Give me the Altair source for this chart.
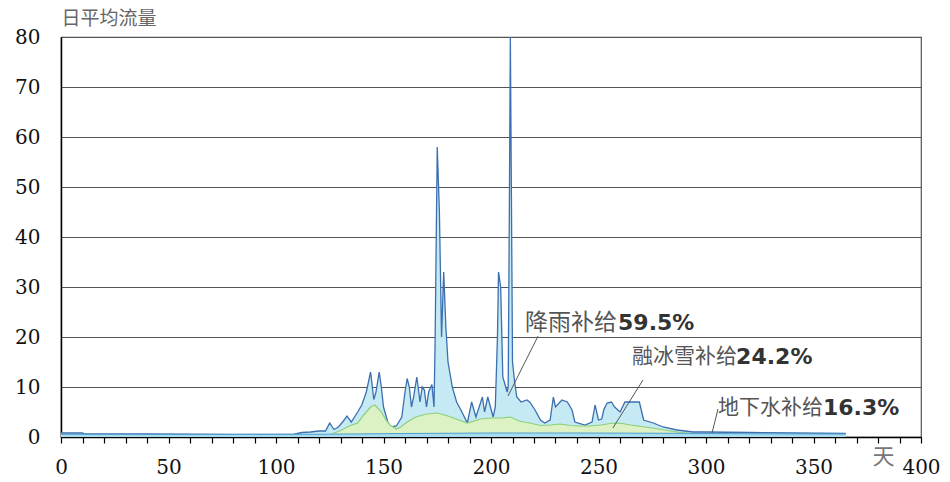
import altair as alt
import pandas as pd

# ---- data ----
total_day = [0, 10, 11, 40, 80, 108, 112, 116, 120, 123, 125, 127, 129, 131, 133, 135, 138, 140, 142,
             144, 145.5, 146.5, 148, 149, 150, 152, 153, 156, 158.5, 160, 161, 162, 163, 164, 165.5,
             167, 168, 169, 170, 171, 172.5, 173.5, 174, 175, 176, 177, 178, 179, 180, 182, 184, 186,
             189, 191, 193, 196, 197, 198.5, 201, 202, 203, 203.5, 204.5, 205.5, 207.5, 208, 208.5,
             209, 209.5, 210, 211, 212, 214, 216.7, 218, 220.5, 223, 225, 227.5, 229, 230, 233, 235.5,
             237.7, 239, 243.7, 247, 248.4, 250, 251.5, 252.5, 254, 256, 257.5, 260, 262.3, 264, 269,
             271, 275.5, 280, 286.5, 294, 300, 320, 340, 365]
total_flow = [0.8, 0.8, 0.6, 0.6, 0.5, 0.5, 0.9, 1.0, 1.2, 1.2, 2.8, 1.5, 2.0, 3.0, 4.2, 3.0, 5.0, 6.5, 9,
              13, 7.5, 9, 13, 10, 6, 3, 2, 2.2, 4, 9, 11.7, 10, 6, 8, 12,
              7, 10, 9.4, 6, 9, 10.5, 6, 19, 58, 45, 20, 33, 22, 15, 10, 7, 5.4,
              2.8, 7, 4, 8, 5, 8, 4, 6, 20, 33, 30, 12, 9, 10, 43,
              80, 48, 15, 11, 8, 7, 7.4, 7, 5.4, 3.4, 2.8, 3.4, 8, 6, 7.4, 7,
              5.4, 3, 2.4, 3, 6.4, 3.4, 3.6, 5.5, 6.8, 7, 6, 5, 7, 7, 7,
              3.4, 2.8, 2, 1.4, 1.0, 1.0, 0.9, 0.8, 0.7]

snow_day = [126, 131, 134, 138, 141, 144, 146, 149, 151, 153, 156, 158, 161, 165, 170, 175, 180, 185,
            189, 195, 200, 205, 209, 213, 218, 223, 228, 232, 237, 241, 246, 251, 257, 261, 265, 270,
            275, 282, 288, 294, 298]
snow_top = [0.6, 1.5, 2.2, 2.8, 4.5, 6.0, 6.4, 5.0, 3.5, 2.4, 1.6, 2.0, 3.0, 4.0, 4.6, 4.8, 4.2, 3.4,
            2.8, 3.6, 3.8, 3.8, 4.0, 3.2, 2.8, 2.3, 2.4, 2.6, 2.3, 2.2, 2.2, 2.4, 2.8, 2.7, 2.4, 2.1,
            1.8, 1.3, 0.9, 0.7, 0.6]

gw_day = [0, 60, 120, 160, 200, 240, 280, 320, 365]
gw_top = [0.55, 0.5, 0.55, 0.7, 0.8, 0.8, 0.75, 0.65, 0.6]

x_ticks = list(range(0, 401, 10))
y_ticks = list(range(0, 81, 10))

labels_cn = ["降雨补给", "融冰雪补给", "地下水补给"]
labels_pct = ["59.5%", "24.2%", "16.3%"]

# ---- tables ----
total_df = pd.DataFrame({"day": total_day, "flow": total_flow})
snow_df = pd.DataFrame({"day": snow_day, "flow": snow_top})
gw_df = pd.DataFrame({"day": gw_day, "flow": gw_top})

ann_df = pd.DataFrame({
    "cn": labels_cn,
    "pct": labels_pct,
    "tx": [215.8, 265.6, 305.6],
    "px": [259.1, 314.0, 354.4],
    "ty": [22.8, 16.0, 5.8],
    "fs": [23, 21, 21],
    "lx1": [221.9, 270.7, 305.6],
    "ly1": [20.2, 11.4, 5.6],
    "lx2": [207.9, 256.7, 302.8],
    "ly2": [8.2, 1.8, 0.8],
})

xs = alt.Scale(domain=[0, 400], nice=False, zero=False)
ys = alt.Scale(domain=[0, 80], nice=False)

x_axis = alt.Axis(values=x_ticks, labelExpr="datum.value % 50 == 0 ? datum.label : ''",
                  grid=False, tickSize=6, tickColor="#000", tickWidth=1.2,
                  domainColor="#000", domainWidth=1.5,
                  labelFont="DejaVu Serif", labelFontSize=20, labelColor="#111",
                  labelPadding=14, labelFlush=False,
                  title="天", titleX=822, titleY=19, titleAlign="center", titleBaseline="middle",
                  titleFont="Noto Sans CJK SC", titleFontSize=22, titleFontWeight="normal",
                  titleColor="#777")
y_axis = alt.Axis(values=y_ticks, grid=True, gridColor="#555", gridWidth=1.2, tickSize=0,
                  domainColor="#000", domainWidth=1.5,
                  labelFont="DejaVu Serif", labelFontSize=20, labelColor="#111",
                  labelPadding=21,
                  title="日平均流量", titleAngle=0, titleAlign="left", titleBaseline="middle",
                  titleX=0, titleY=-19, titleFont="Noto Sans CJK SC", titleFontSize=19,
                  titleFontWeight="normal", titleColor="#666")


def X(field):
    return alt.X(field, type="quantitative", scale=xs, axis=x_axis)


def Y(field):
    return alt.Y(field, type="quantitative", scale=ys, axis=y_axis)


total_area = alt.Chart(total_df).mark_area(
    color="#c6eaf3", opacity=1,
    line={"color": "#3c6fb0", "strokeWidth": 1.3},
).encode(x=X("day"), y=Y("flow"))

snow_area = alt.Chart(snow_df).mark_area(
    color="#dcf1c4", opacity=1,
    line={"color": "#8ccf7a", "strokeWidth": 1.2},
).encode(x=X("day"), y=Y("flow"))

gw_area = alt.Chart(gw_df).mark_area(
    color="#a9dcef", opacity=1,
    line={"color": "#4f9fd0", "strokeWidth": 1},
).encode(x=X("day"), y=Y("flow"))

leaders = alt.Chart(ann_df).mark_rule(color="#555", strokeWidth=1).encode(
    x=X("lx1"), y=Y("ly1"), x2="lx2:Q", y2="ly2:Q",
)

cn_text = alt.Chart(ann_df).mark_text(
    align="left", baseline="middle", font="Noto Sans CJK SC", color="#555"
).encode(
    x=X("tx"), y=Y("ty"), text="cn:N", size=alt.Size("fs:Q", scale=None, legend=None),
)

pct_text = alt.Chart(ann_df).mark_text(
    align="left", baseline="middle", font="DejaVu Sans", fontSize=22, fontWeight="bold",
    color="#333"
).encode(
    x=X("px"), y=Y("ty"), text="pct:N",
)

chart = alt.layer(total_area, snow_area, gw_area, leaders, cn_text, pct_text).properties(
    width=860, height=400,
    autosize=alt.AutoSizeParams(type="none"),
    padding={"left": 61, "top": 37, "right": 29, "bottom": 45},
    background="white",
).configure_view(stroke="#555", strokeWidth=1.2)

chart.save("out.html", embed_options={"renderer": "svg", "actions": False})
